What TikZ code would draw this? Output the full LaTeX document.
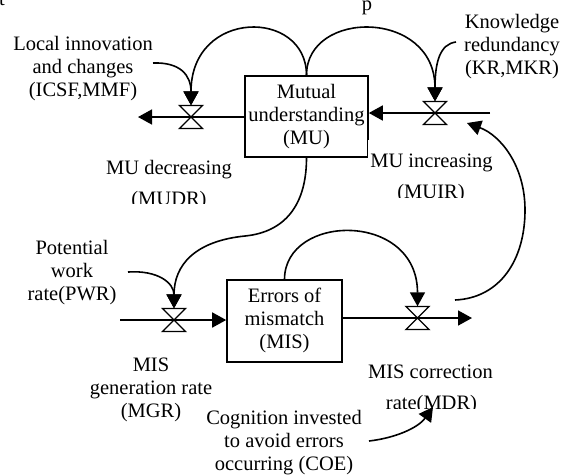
\documentclass[tikz,border=0pt]{standalone}
\usepackage{fontspec}
\setmainfont{Liberation Serif}
\usetikzlibrary{arrows.meta}
\begin{document}
\begin{tikzpicture}[x=1pt,y=-1pt,
  every node/.style={font=\fontsize{20.5}{23}\selectfont, inner sep=0pt},
  line/.style={line width=1.6pt},
  infl/.style={line width=1.6pt, -{Triangle[length=14pt,width=15pt]}},
  stock/.style={draw, line width=1.6pt, align=center},
  valvept/.style={minimum size=23pt, inner sep=0pt},
  lbl/.style={align=center, anchor=north},
  valveglyph/.pic={\draw[line width=1.3pt, fill=white]
    (-11.5,-11.5) -- (11.5,-11.5) -- (-11.5,11.5) -- (11.5,11.5) -- cycle;},
]
\useasboundingbox (0,0) rectangle (561,475);

% clipped fragments of a line above the frame
\begin{scope}
  \clip (0,0) rectangle (561,20);
  \node[anchor=base] (fragp) at (367,10) {p};
  \node[anchor=base] (fragt) at (2,5) {t};
\end{scope}

% stocks
\node[stock, minimum width=123pt, minimum height=81pt] (MU) at (306.5,116.5)
  {\strut Mutual\\\strut understanding\\\strut (MU)};
\node[stock, minimum width=115pt, minimum height=82pt] (MIS) at (284.5,321)
  {\strut Errors of\\\strut mismatch\\\strut (MIS)};

% valves
\node[valvept] (vMUDR) at (191,117) {};
\node[valvept] (vMUIR) at (435,113) {};
\node[valvept] (vMGR)  at (174,320) {};
\node[valvept] (vMDR)  at (417.5,318) {};

% free ends of the flows
\coordinate (mudrOut) at (138,117);
\coordinate (muirIn)  at (490,113);
\coordinate (mgrIn)   at (120,320);
\coordinate (mdrOut)  at (472,318);

% flows
\draw[line] (MU.west |- vMUDR) -- (vMUDR.center);
\draw[infl] (vMUDR.center) -- (mudrOut);
\draw[infl] (muirIn) -- (MU.east |- vMUIR);
\draw[infl] (mgrIn) -- (MIS.west |- vMGR);
\draw[infl] (MIS.east |- vMDR) -- (mdrOut);

\pic at (vMUDR) {valveglyph};
\pic at (vMUIR) {valveglyph};
\pic at (vMGR)  {valveglyph};
\pic at (vMDR)  {valveglyph};

% auxiliary labels
\node[lbl] (lic) at (83,33.9) {\strut Local innovation\\\strut and changes\\\strut (ICSF,MMF)};
\node[lbl] (kr)  at (512,11.9) {\strut Knowledge\\\strut redundancy\\\strut (KR,MKR)};
\node[lbl] (pwr) at (72,237.9) {\strut Potential\\\strut work\\\strut rate(PWR)};
\node[lbl] (mgr) at (151,354.9) {\strut MIS\\\strut generation rate\\\strut (MGR)};
\node[lbl] (coe) at (284,407.9) {\strut Cognition invested\\\strut to avoid errors\\\strut occurring (COE)};

% rate labels in cropped text frames
\begin{scope}
  \clip (100,150) rectangle (240,203);
  \node[anchor=base] (mudr1) at (169,174) {MU decreasing};
  \node[anchor=base] (mudr2) at (169,205) {(MUDR)};
\end{scope}
\fill[white] (367.5,140) rectangle (496,197);
\begin{scope}
  \clip (367.5,140) rectangle (496,197);
  \node[anchor=base] (muir1) at (431.5,167) {MU increasing};
  \node[anchor=base] (muir2) at (431,198) {(MUIR)};
\end{scope}
\begin{scope}
  \clip (360,355) rectangle (500,408);
  \node[anchor=base] (mdr1) at (430.5,378) {MIS correction};
  \node[anchor=base] (mdr2) at (431.5,409) {rate(MDR)};
\end{scope}

% free ends of the information links
\coordinate (licS) at (153,63);
\coordinate (krS)  at (456,42);
\coordinate (pwrS) at (128,272);
\coordinate (fbS)  at (455,300);
\coordinate (fbE)  at (467,123);
\coordinate (coeS) at (369,441);
\coordinate (coeE) at (433,407);

% information links
\draw[infl] (MU.north) .. controls (306.5,8.4) and (191,8.4) .. (vMUDR.north);
\draw[infl] (MU.north) .. controls (306.5,9) and (435,9) .. (vMUIR.north);
\draw[infl] (licS) .. controls (180,62) and (191,75) .. (vMUDR.north);
\draw[infl] (krS) .. controls (440,44) and (435,62) .. (vMUIR.north);
\draw[infl] (MU.south) .. controls (306.5,205) and (285,232) .. (245,236)
  .. controls (195,241) and (174,265) .. (vMGR.north);
\draw[infl] (pwrS) .. controls (158,270) and (174,283) .. (vMGR.north);
\draw[infl] (MIS.north) .. controls (285,213) and (417.5,211) .. (vMDR.north);
\draw[infl] (fbS) .. controls (500,298) and (525,260) .. (525,210)
  .. controls (525,165) and (500,135) .. (fbE);
\draw[infl] (coeS) .. controls (395,438) and (418,428) .. (coeE);
\end{tikzpicture}
\end{document}
